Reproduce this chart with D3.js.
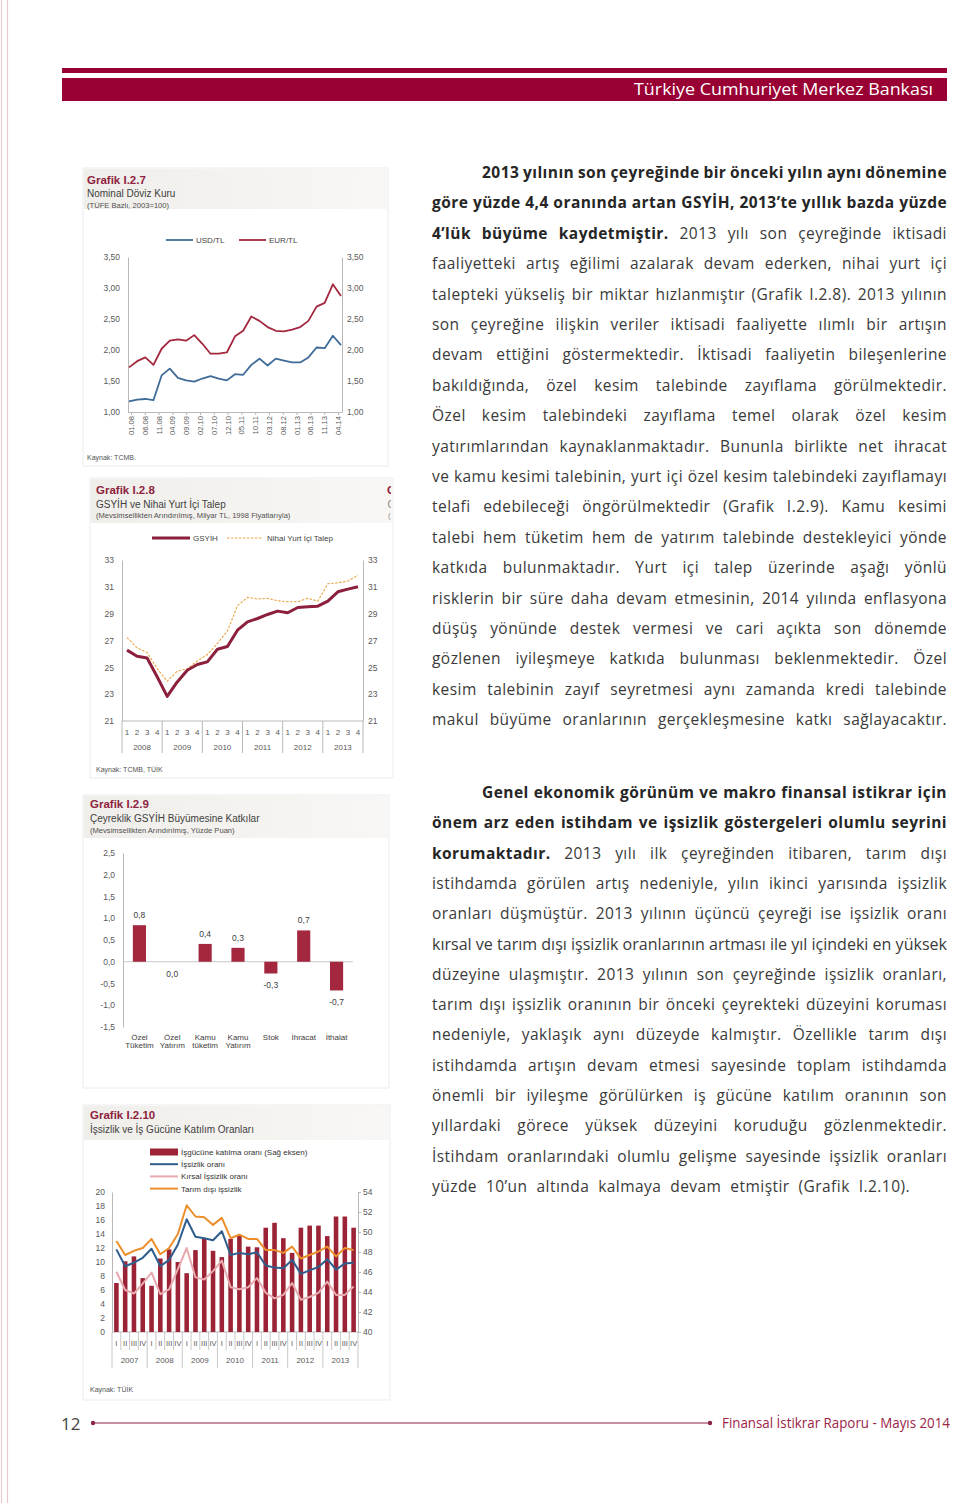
<!DOCTYPE html>
<html>
<head>
<meta charset="utf-8">
<script src="https://cdn.jsdelivr.net/npm/d3@7"></script>
<style>
body { margin: 0; background: #fff; }
svg { display: block; }
</style>
</head>
<body>
<div id="page"></div>
<script>
// ---- data: Grafik I.2.7 (quarterly points, 01.08 - 04.14)
var monthLabels = ["01.08","06.08","11.08","04.09","09.09","02.10","07.10","12.10","05.11","10.11","03.12","08.12","01.13","06.13","11.13","04.14"];
var usdTl = [1.17,1.20,1.21,1.19,1.59,1.70,1.55,1.51,1.49,1.54,1.58,1.54,1.51,1.61,1.60,1.76,1.86,1.75,1.86,1.83,1.80,1.80,1.88,2.04,2.03,2.23,2.08];
var eurTl = [1.72,1.82,1.88,1.76,2.02,2.15,2.17,2.15,2.24,2.10,1.94,1.94,1.96,2.22,2.31,2.54,2.47,2.37,2.31,2.30,2.33,2.37,2.47,2.70,2.76,3.06,2.87];

// ---- data: Grafik I.2.8
var years8 = ["2008","2009","2010","2011","2012","2013"];
var gsyih = [26.28,25.83,25.70,24.30,22.84,23.91,24.78,25.21,25.41,26.35,26.55,27.77,28.39,28.64,28.94,29.19,29.07,29.46,29.51,29.56,29.94,30.63,30.83,31.00];
var nihaiTalep = [27.22,26.45,26.10,24.90,23.96,24.71,24.90,25.48,25.95,26.78,27.70,29.59,30.21,30.09,30.14,29.96,29.89,29.89,30.14,29.94,31.23,31.30,31.43,31.88];

// ---- data: Grafik I.2.9
var components = [["Özel","Tüketim"],["Özel","Yatırım"],["Kamu","tüketim"],["Kamu","Yatırım"],["Stok"],["İhracat"],["İthalat"]];
var contributions = [0.84, 0.0, 0.41, 0.32, -0.27, 0.72, -0.66];

// ---- data: Grafik I.2.10
var years10 = ["2007","2008","2009","2010","2011","2012","2013"];
var quarterNames = ["I","II","III","IV"];
var katilim = [44.9,47.07,47.56,45.39, 44.62,47.35,48.26,47.0, 45.88,48.19,49.31,48.12, 47.49,49.31,49.66,48.54, 48.47,50.43,50.92,49.38, 47.91,50.43,50.64,50.64, 49.59,51.55,51.55,50.43];
var issizlik = [11.8,9.4,9.9,10.6, 11.9,9.4,10.3,12.5, 16.1,13.6,13.4,13.1, 14.4,11.0,11.3,11.1, 11.4,9.5,9.2,9.1, 10.3,8.3,8.8,9.3, 10.4,8.9,9.8,9.9];
var kirsal = [8.6,6.0,5.5,6.9, 8.5,5.4,6.1,9.0, 12.0,7.8,7.5,8.7, 10.2,6.4,6.1,6.4, 7.7,5.6,4.8,5.3, 7.0,4.6,5.0,5.6, 7.2,5.3,5.3,6.5];
var tarimDisi = [13.0,11.0,11.6,12.0, 13.3,11.1,12.0,14.0, 18.1,16.5,16.4,15.3, 16.3,13.4,13.9,13.3, 13.3,11.7,11.7,11.3, 12.2,10.5,11.0,11.5, 12.2,10.8,12.0,11.7];

// ---- text column
var para1 = [
  [[1,"2013 yılının son çeyreğinde bir önceki yılın aynı dönemine"]],
  [[1,"göre yüzde 4,4 oranında artan GSYİH, 2013’te yıllık bazda yüzde"]],
  [[1,"4’lük büyüme kaydetmiştir."],[0," 2013 yılı son çeyreğinde iktisadi"]],
  [[0,"faaliyetteki artış eğilimi azalarak devam ederken, nihai yurt içi"]],
  [[0,"talepteki yükseliş bir miktar hızlanmıştır (Grafik I.2.8). 2013 yılının"]],
  [[0,"son çeyreğine ilişkin veriler iktisadi faaliyette ılımlı bir artışın"]],
  [[0,"devam ettiğini göstermektedir. İktisadi faaliyetin bileşenlerine"]],
  [[0,"bakıldığında, özel kesim talebinde zayıflama görülmektedir."]],
  [[0,"Özel kesim talebindeki zayıflama temel olarak özel kesim"]],
  [[0,"yatırımlarından kaynaklanmaktadır. Bununla birlikte net ihracat"]],
  [[0,"ve kamu kesimi talebinin, yurt içi özel kesim talebindeki zayıflamayı"]],
  [[0,"telafi edebileceği öngörülmektedir (Grafik I.2.9). Kamu kesimi"]],
  [[0,"talebi hem tüketim hem de yatırım talebinde destekleyici yönde"]],
  [[0,"katkıda bulunmaktadır. Yurt içi talep üzerinde aşağı yönlü"]],
  [[0,"risklerin bir süre daha devam etmesinin, 2014 yılında enflasyona"]],
  [[0,"düşüş yönünde destek vermesi ve cari açıkta son dönemde"]],
  [[0,"gözlenen iyileşmeye katkıda bulunması beklenmektedir. Özel"]],
  [[0,"kesim talebinin zayıf seyretmesi aynı zamanda kredi talebinde"]],
  [[0,"makul büyüme oranlarının gerçekleşmesine katkı sağlayacaktır."]]
];
var para2 = [
  [[1,"Genel ekonomik görünüm ve makro finansal istikrar için"]],
  [[1,"önem arz eden istihdam ve işsizlik göstergeleri olumlu seyrini"]],
  [[1,"korumaktadır."],[0," 2013 yılı ilk çeyreğinden itibaren, tarım dışı"]],
  [[0,"istihdamda görülen artış nedeniyle, yılın ikinci yarısında işsizlik"]],
  [[0,"oranları düşmüştür. 2013 yılının üçüncü çeyreği ise işsizlik oranı"]],
  [[0,"kırsal ve tarım dışı işsizlik oranlarının artması ile yıl içindeki en yüksek"]],
  [[0,"düzeyine ulaşmıştır. 2013 yılının son çeyreğinde işsizlik oranları,"]],
  [[0,"tarım dışı işsizlik oranının bir önceki çeyrekteki düzeyini koruması"]],
  [[0,"nedeniyle, yaklaşık aynı düzeyde kalmıştır. Özellikle tarım dışı"]],
  [[0,"istihdamda artışın devam etmesi sayesinde toplam istihdamda"]],
  [[0,"önemli bir iyileşme görülürken iş gücüne katılım oranının son"]],
  [[0,"yıllardaki görece yüksek düzeyini koruduğu gözlenmektedir."]],
  [[0,"İstihdam oranlarındaki olumlu gelişme sayesinde işsizlik oranları"]],
  [[0,"yüzde 10’un altında kalmaya devam etmiştir (Grafik I.2.10)."]]
];

var FONT = "'Liberation Sans', Arial, sans-serif";
var BODY = "'Open Sans', 'Noto Sans', sans-serif";
var crimson = "#990033",
    titleRed = "#8e2340",
    axisGrey = "#b8b8b8",
    labelGrey = "#595959";

var tr = d3.formatLocale({decimal: ",", thousands: ".", grouping: [3], currency: ["", ""], minus: "-"});
var f2 = tr.format(".2f"), f1 = tr.format(".1f");

var svg = d3.select("#page").append("svg")
    .attr("width", 960)
    .attr("height", 1503)
    .attr("font-family", FONT);

svg.append("rect").attr("width", 960).attr("height", 1503).attr("fill", "#fff");

var defs = svg.append("defs");
var grad = defs.append("linearGradient").attr("id", "titlebg");
grad.append("stop").attr("offset", "0%").attr("stop-color", "#f0eeea");
grad.append("stop").attr("offset", "100%").attr("stop-color", "#f8f7f5");

// page margin lines
[1.5, 7.5].forEach(function(x) {
  svg.append("line").attr("x1", x).attr("x2", x).attr("y1", 0).attr("y2", 1503)
      .attr("stroke", "#e8c9ce").attr("stroke-width", 1.2);
});

// ||  HEADER / FOOTER  ||
svg.append("rect").attr("x", 62).attr("y", 68).attr("width", 885).attr("height", 5).attr("fill", crimson);
svg.append("rect").attr("x", 62).attr("y", 78).attr("width", 885).attr("height", 23).attr("fill", crimson);
svg.append("text").attr("x", 634).attr("y", 95)
    .attr("font-family", BODY).attr("font-size", 16.5).attr("fill", "#fff")
    .attr("textLength", 299).attr("lengthAdjust", "spacingAndGlyphs")
    .text("Türkiye Cumhuriyet Merkez Bankası");

svg.append("text").attr("x", 61).attr("y", 1430).attr("font-family", BODY)
    .attr("font-size", 17).attr("fill", "#444").text("12");
svg.append("line").attr("x1", 93).attr("x2", 710).attr("y1", 1423).attr("y2", 1423)
    .attr("stroke", "#8b2346").attr("stroke-width", 1.2);
[93, 710].forEach(function(x) {
  svg.append("circle").attr("cx", x).attr("cy", 1423).attr("r", 2.2).attr("fill", "#8b2346");
});
svg.append("text").attr("x", 722).attr("y", 1428).attr("font-family", BODY)
    .attr("font-size", 14).attr("fill", "#9b2448")
    .attr("textLength", 228).attr("lengthAdjust", "spacingAndGlyphs")
    .text("Finansal İstikrar Raporu - Mayıs 2014");

// ||  PANELS  ||
function panel(x, y, w, h, tx, titles) {
  svg.append("rect").attr("x", x).attr("y", y).attr("width", w).attr("height", h)
      .attr("fill", "#fff").attr("stroke", "#ececec");
  svg.append("rect").attr("x", x + 1).attr("y", y + 1).attr("width", w - 2).attr("height", titles.bgH)
      .attr("fill", "url(#titlebg)");
  svg.append("text").attr("x", tx).attr("y", titles.y[0]).attr("font-size", 11.5)
      .attr("font-weight", "bold").attr("fill", titleRed).text(titles.t[0]);
  svg.append("text").attr("x", tx).attr("y", titles.y[1]).attr("font-size", 10)
      .attr("fill", "#404040").text(titles.t[1]);
  if (titles.t[2]) {
    svg.append("text").attr("x", tx).attr("y", titles.y[2]).attr("font-size", 7.6)
        .attr("fill", "#505050").text(titles.t[2]);
  }
}

function source(x, y, t) {
  svg.append("text").attr("x", x).attr("y", y).attr("font-size", 7).attr("fill", "#555").text(t);
}

function styleAxis(g, size) {
  g.attr("font-family", FONT).attr("font-size", size || 8.5);
  g.select(".domain").attr("stroke", axisGrey);
  g.selectAll(".tick line").attr("stroke", axisGrey);
  g.selectAll(".tick text").attr("fill", labelGrey);
}

// ||  GRAFIK I.2.7  ||
panel(83, 168, 305, 298, 87, {bgH: 40, y: [184, 197, 208],
  t: ["Grafik I.2.7", "Nominal Döviz Kuru", "(TÜFE Bazlı, 2003=100)"]});

var x7 = d3.scalePoint().domain(d3.range(usdTl.length)).range([129, 341]);
var xl7 = d3.scalePoint().domain(monthLabels).range([131, 338]);
var y7 = d3.scaleLinear().domain([1, 3.5]).range([412, 257]);
var ticks7 = d3.range(1, 3.51, 0.5);

svg.append("g").attr("transform", "translate(128,0)")
    .call(d3.axisLeft(y7).tickValues(ticks7).tickFormat(f2).tickSize(0).tickPadding(8))
    .call(styleAxis, 8.5);
svg.append("g").attr("transform", "translate(342,0)")
    .call(d3.axisRight(y7).tickValues(ticks7).tickFormat(f2).tickSize(0).tickPadding(5))
    .call(styleAxis, 8.5);
var bx7 = svg.append("g").attr("transform", "translate(0,412)")
    .call(d3.axisBottom(xl7).tickSize(3).tickSizeOuter(0))
    .call(styleAxis, 7.6);
bx7.select(".domain").attr("d", "M128,0.5H342");
bx7.selectAll(".tick text")
    .attr("transform", "rotate(-90)")
    .attr("text-anchor", "end")
    .attr("x", -4).attr("y", 0).attr("dy", "0.32em");

var line7 = d3.line().x(function(d, i) { return x7(i); }).y(function(d) { return y7(d); });
svg.append("path").datum(eurTl).attr("d", line7).attr("fill", "none")
    .attr("stroke", "#a3283f").attr("stroke-width", 1.8).attr("stroke-linejoin", "round");
svg.append("path").datum(usdTl).attr("d", line7).attr("fill", "none")
    .attr("stroke", "#3f6b98").attr("stroke-width", 1.8).attr("stroke-linejoin", "round");

[[166, "#3f6b98", "USD/TL"], [239, "#a3283f", "EUR/TL"]].forEach(function(l) {
  svg.append("line").attr("x1", l[0]).attr("x2", l[0] + 27).attr("y1", 240).attr("y2", 240)
      .attr("stroke", l[1]).attr("stroke-width", 1.8);
  svg.append("text").attr("x", l[0] + 30).attr("y", 243).attr("font-size", 8).attr("fill", "#444").text(l[2]);
});
source(87, 460, "Kaynak: TCMB.");

// ||  GRAFIK I.2.8  ||
panel(90, 478, 303, 300, 96, {bgH: 44, y: [494, 508, 518],
  t: ["Grafik I.2.8", "GSYİH ve Nihai Yurt İçi Talep",
      "(Mevsimsellikten Arındırılmış, Milyar TL, 1998 Fiyatlarıyla)"]});

// clipped edge of the neighbouring panel
var clip = defs.append("clipPath").attr("id", "edge");
clip.append("rect").attr("x", 386).attr("y", 480).attr("width", 5).attr("height", 45);
var edge = svg.append("g").attr("clip-path", "url(#edge)");
edge.append("text").attr("x", 387).attr("y", 494).attr("font-size", 11.5).attr("font-weight", "bold").attr("fill", titleRed).text("G");
edge.append("text").attr("x", 387.5).attr("y", 508).attr("font-size", 10).attr("fill", "#888").text("G");
edge.append("text").attr("x", 388).attr("y", 518).attr("font-size", 7.6).attr("fill", "#888").text("(");

var quarters8 = [];
years8.forEach(function(y) { [1, 2, 3, 4].forEach(function(q) { quarters8.push(y + "-" + q); }); });
var x8 = d3.scaleBand().domain(quarters8).range([122, 363]);
var y8 = d3.scaleLinear().domain([21, 33]).range([721, 560]);
var ticks8 = d3.range(21, 33.1, 2);

svg.append("g").attr("transform", "translate(122,0)")
    .call(d3.axisLeft(y8).tickValues(ticks8).tickSize(0).tickPadding(8))
    .call(styleAxis, 8.5);
svg.append("g").attr("transform", "translate(363,0)")
    .call(d3.axisRight(y8).tickValues(ticks8).tickSize(0).tickPadding(5))
    .call(styleAxis, 8.5);
svg.append("line").attr("x1", 122).attr("x2", 363).attr("y1", 721).attr("y2", 721).attr("stroke", axisGrey);

svg.append("g").selectAll("text").data(quarters8).enter().append("text")
    .attr("x", function(d) { return x8(d) + x8.bandwidth() / 2; })
    .attr("y", 735).attr("text-anchor", "middle").attr("font-size", 8).attr("fill", labelGrey)
    .text(function(d) { return d.split("-")[1]; });
svg.append("g").selectAll("text").data(years8).enter().append("text")
    .attr("x", function(d) { return x8(d + "-1") + 2 * x8.bandwidth(); })
    .attr("y", 750).attr("text-anchor", "middle").attr("font-size", 8).attr("fill", labelGrey)
    .text(function(d) { return d; });
svg.append("g").selectAll("line").data(years8.concat(["end"])).enter().append("line")
    .attr("x1", function(d) { return d == "end" ? 363 : x8(d + "-1"); })
    .attr("x2", function(d) { return d == "end" ? 363 : x8(d + "-1"); })
    .attr("y1", 721).attr("y2", 753).attr("stroke", axisGrey);

var line8 = d3.line()
    .x(function(d, i) { return x8(quarters8[i]) + x8.bandwidth() / 2; })
    .y(function(d) { return y8(d); });
svg.append("path").datum(nihaiTalep).attr("d", line8).attr("fill", "none")
    .attr("stroke", "#e9a340").attr("stroke-width", 1.1).attr("stroke-dasharray", "2.5,1.5");
svg.append("path").datum(gsyih).attr("d", line8).attr("fill", "none")
    .attr("stroke", "#8c1f3c").attr("stroke-width", 3).attr("stroke-linejoin", "round");

svg.append("line").attr("x1", 152).attr("x2", 190).attr("y1", 538).attr("y2", 538)
    .attr("stroke", "#8c1f3c").attr("stroke-width", 3);
svg.append("text").attr("x", 193).attr("y", 541).attr("font-size", 8).attr("fill", "#444").text("GSYİH");
svg.append("line").attr("x1", 227).attr("x2", 262).attr("y1", 538).attr("y2", 538)
    .attr("stroke", "#e9a340").attr("stroke-width", 1.1).attr("stroke-dasharray", "2.5,1.5");
svg.append("text").attr("x", 267).attr("y", 541).attr("font-size", 8).attr("fill", "#444").text("Nihai Yurt İçi Talep");
source(96, 772, "Kaynak: TCMB, TÜİK");

// ||  GRAFIK I.2.9  ||
panel(83, 795, 306, 293, 90, {bgH: 42, y: [808, 822, 833],
  t: ["Grafik I.2.9", "Çeyreklik GSYİH Büyümesine Katkılar", "(Mevsimsellikten Arındırılmış, Yüzde Puan)"]});

var x9 = d3.scaleBand().domain(d3.range(components.length)).range([123, 353]).paddingInner(0.6).paddingOuter(0.3);
var y9 = d3.scaleLinear().domain([-1.5, 2.5]).range([1027, 853]);

svg.append("g").attr("transform", "translate(123,0)")
    .call(d3.axisLeft(y9).tickValues(d3.range(-1.5, 2.51, 0.5)).tickFormat(f1).tickSize(0).tickPadding(8))
    .call(styleAxis, 8.5);
svg.append("line").attr("x1", 123).attr("x2", 353).attr("y1", y9(0)).attr("y2", y9(0)).attr("stroke", "#c8c8c8");

svg.append("g").selectAll("rect").data(contributions).enter().append("rect")
    .attr("x", function(d, i) { return x9(i); })
    .attr("width", x9.bandwidth())
    .attr("y", function(d) { return y9(Math.max(0, d)); })
    .attr("height", function(d) { return Math.abs(y9(d) - y9(0)); })
    .attr("fill", "#a3283f");
svg.append("g").selectAll("text").data(contributions).enter().append("text")
    .attr("x", function(d, i) { return x9(i) + x9.bandwidth() / 2; })
    .attr("y", function(d) { return d > 0 ? y9(d) - 7 : y9(d) + 15; })
    .attr("text-anchor", "middle").attr("font-size", 8.5).attr("fill", "#404040")
    .text(function(d) { return f1(d); });
var cat9 = svg.append("g").selectAll("text").data(components).enter().append("text")
    .attr("text-anchor", "middle").attr("font-size", 8).attr("fill", "#404040");
cat9.each(function(d, i) {
  var t = d3.select(this);
  d.forEach(function(s, k) {
    t.append("tspan").attr("x", x9(i) + x9.bandwidth() / 2).attr("y", 1039.5 + k * 8.5).text(s);
  });
});

// ||  GRAFIK I.2.10  ||
panel(83, 1105, 307, 295, 90, {bgH: 34, y: [1119, 1133],
  t: ["Grafik I.2.10", "İşsizlik ve İş Gücüne Katılım Oranları"]});

var q10 = [];
years10.forEach(function(y) { quarterNames.forEach(function(q) { q10.push(y + "-" + q); }); });
var x10 = d3.scaleBand().domain(q10).range([112, 358]).paddingInner(0.48).paddingOuter(0.24);
var yL10 = d3.scaleLinear().domain([0, 20]).range([1332, 1192]);
var yR10 = d3.scaleLinear().domain([40, 54]).range([1332, 1192]);

svg.append("g").attr("transform", "translate(112,0)")
    .call(d3.axisLeft(yL10).tickValues(d3.range(0, 20.1, 2)).tickSize(0).tickPadding(7))
    .call(styleAxis, 8.5);
svg.append("g").attr("transform", "translate(358,0)")
    .call(d3.axisRight(yR10).tickValues(d3.range(40, 54.1, 2)).tickSize(3).tickPadding(2))
    .call(styleAxis, 8.5);
svg.append("line").attr("x1", 112).attr("x2", 358).attr("y1", 1332).attr("y2", 1332).attr("stroke", axisGrey);

svg.append("g").selectAll("rect").data(katilim).enter().append("rect")
    .attr("x", function(d, i) { return x10(q10[i]); })
    .attr("width", x10.bandwidth())
    .attr("y", function(d) { return yR10(d); })
    .attr("height", function(d) { return yR10(40) - yR10(d); })
    .attr("fill", "#9b2335");

var line10 = d3.line()
    .x(function(d, i) { return x10(q10[i]) + x10.bandwidth() / 2; })
    .y(function(d) { return yL10(d); });
[[kirsal, "#e8aaae"], [tarimDisi, "#eb8f2c"], [issizlik, "#2f5d8c"]].forEach(function(s) {
  svg.append("path").datum(s[0]).attr("d", line10).attr("fill", "none")
      .attr("stroke", s[1]).attr("stroke-width", 2).attr("stroke-linejoin", "round");
});

var step10 = x10.step();
svg.append("g").selectAll("text").data(q10).enter().append("text")
    .attr("x", function(d) { return x10(d) + x10.bandwidth() / 2; })
    .attr("y", 1346).attr("text-anchor", "middle").attr("font-size", 7.5).attr("fill", labelGrey)
    .text(function(d) { return d.split("-")[1]; });
svg.append("g").selectAll("line").data(q10).enter().append("line")
    .attr("x1", function(d) { return x10(d) - step10 * 0.24; })
    .attr("x2", function(d) { return x10(d) - step10 * 0.24; })
    .attr("y1", 1332)
    .attr("y2", function(d) { return d.split("-")[1] == "I" ? 1368 : 1350; })
    .attr("stroke", "#c8c8c8");
svg.append("line").attr("x1", 358).attr("x2", 358).attr("y1", 1332).attr("y2", 1368).attr("stroke", "#c8c8c8");
svg.append("g").selectAll("text").data(years10).enter().append("text")
    .attr("x", function(d) { return x10(d + "-I") - step10 * 0.24 + 2 * step10; })
    .attr("y", 1363).attr("text-anchor", "middle").attr("font-size", 8).attr("fill", labelGrey)
    .text(function(d) { return d; });

var legend10 = [
  ["bar", "#9b2335", "İşgücüne katılma oranı (Sağ eksen)"],
  ["line", "#2f5d8c", "İşsizlik oranı"],
  ["line", "#e8aaae", "Kırsal İşsizlik oranı"],
  ["line", "#eb8f2c", "Tarım dışı işsizlik"]
];
legend10.forEach(function(l, i) {
  var y = 1152 + i * 12.2;
  if (l[0] == "bar") {
    svg.append("rect").attr("x", 150).attr("y", y - 3.5).attr("width", 28).attr("height", 7).attr("fill", l[1]);
  } else {
    svg.append("line").attr("x1", 150).attr("x2", 178).attr("y1", y).attr("y2", y)
        .attr("stroke", l[1]).attr("stroke-width", 2);
  }
  svg.append("text").attr("x", 181).attr("y", y + 3).attr("font-size", 8).attr("fill", "#333").text(l[2]);
});
source(90, 1392, "Kaynak: TÜİK");

// ||  TEXT COLUMN  ||
function textLine(runs, x0, x1, y, justify) {
  var t = svg.append("text").attr("x", x0).attr("y", y)
      .attr("font-family", BODY).attr("font-size", 15.5)
      .attr("letter-spacing", 0.45)
      .attr("fill", "#3a3a3a").style("white-space", "pre");
  runs.forEach(function(r) {
    t.append("tspan").attr("font-weight", r[0] ? "bold" : null)
        .attr("fill", r[0] ? "#262626" : null).text(r[1]);
  });
  if (!justify) return;
  var w = t.node().getComputedTextLength();
  var full = runs.map(function(r) { return r[1]; }).join("");
  var spaces = (full.match(/ /g) || []).length;
  var ws = ((x1 - x0) - w) / spaces;
  if (ws < -1.5) {
    t.attr("letter-spacing", 0).attr("textLength", x1 - x0).attr("lengthAdjust", "spacingAndGlyphs");
  } else {
    t.attr("word-spacing", ws);
  }
}

para1.forEach(function(runs, i) {
  textLine(runs, i == 0 ? 482 : 432, 947, 178 + i * 30.4, true);
});
para2.forEach(function(runs, i) {
  var last = i == para2.length - 1;
  textLine(runs, i == 0 ? 482 : 432, last ? 910 : 947, 798 + i * 30.3, true);
});
</script>
</body>
</html>
